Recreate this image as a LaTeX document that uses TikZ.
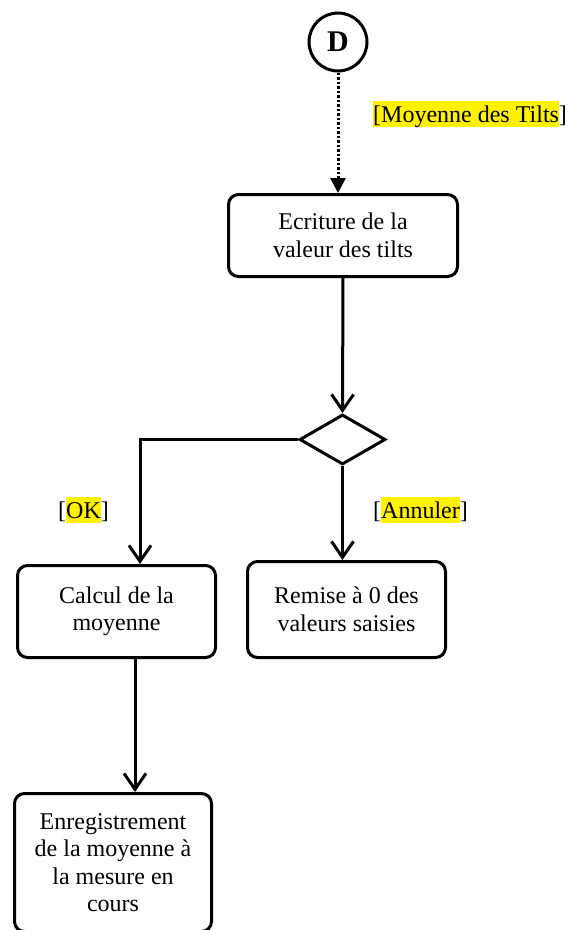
\documentclass[tikz,border=0pt]{standalone}
\usepackage{fontspec}
\setmainfont{Liberation Serif}
\usetikzlibrary{shapes.geometric,arrows.meta}
\newcommand{\hlt}[1]{{\setlength{\fboxsep}{0pt}\colorbox{yellow}{\rule[-5pt]{0pt}{26pt}#1}}}
\begin{document}
\begin{tikzpicture}[x=1pt,y=-1pt,
  txt/.style={font=\fontsize{24}{27.5}\selectfont},
  act/.style={draw, line width=3pt, rounded corners=10pt, align=center, inner sep=0pt, txt},
  flow/.style={line width=3pt, -{Straight Barb[length=16pt,width=22pt]}},
  lbl/.style={txt, anchor=base west, inner sep=0pt}]
\clip (0,0) rectangle (569,930);
\node[circle, draw, line width=3pt, minimum size=58pt, inner sep=0pt, font=\fontsize{30}{30}\selectfont\bfseries] (D) at (338,42) {D};
\node[act, minimum width=229pt, minimum height=82pt] (ecr) at (343,235.5) {Ecriture de la\\valeur des tilts};
\node[diamond, draw, line width=3pt, minimum width=86pt, minimum height=50pt, inner sep=0pt] (dec) at (342.5,439.5) {};
\node[act, minimum width=198pt, minimum height=92pt] (calc) at (116.5,611.5) {Calcul de la\\moyenne};
\node[act, minimum width=198pt, minimum height=96pt] (rem) at (346.5,609.5) {Remise à 0 des\\valeurs saisies};
\node[act, minimum width=197pt, minimum height=138pt] (enr) at (113,862.5) {Enregistrement\\de la moyenne à\\la mesure en\\cours};
\node[lbl] (lm) at (373,122) {\hlt{[Moyenne des Tilts}]};
\node[lbl] (lok) at (58,518) {[\hlt{OK}]};
\node[lbl] (lan) at (373,518) {[\hlt{Annuler}]};
\draw[line width=3pt, dash pattern=on 2.5pt off 2pt, -{Triangle[length=15pt,width=15pt]}] (D.south) -- (D.south |- ecr.north);
\draw[flow] (ecr.south) -- (dec.north);
\draw[flow] (dec.west) -| ([xshift=23.5pt]calc.north);
\draw[flow] (dec.south) -- (dec.south |- rem.north);
\draw[flow] ([xshift=18.5pt]calc.south) -- ([xshift=22pt]enr.north);
\end{tikzpicture}
\end{document}
